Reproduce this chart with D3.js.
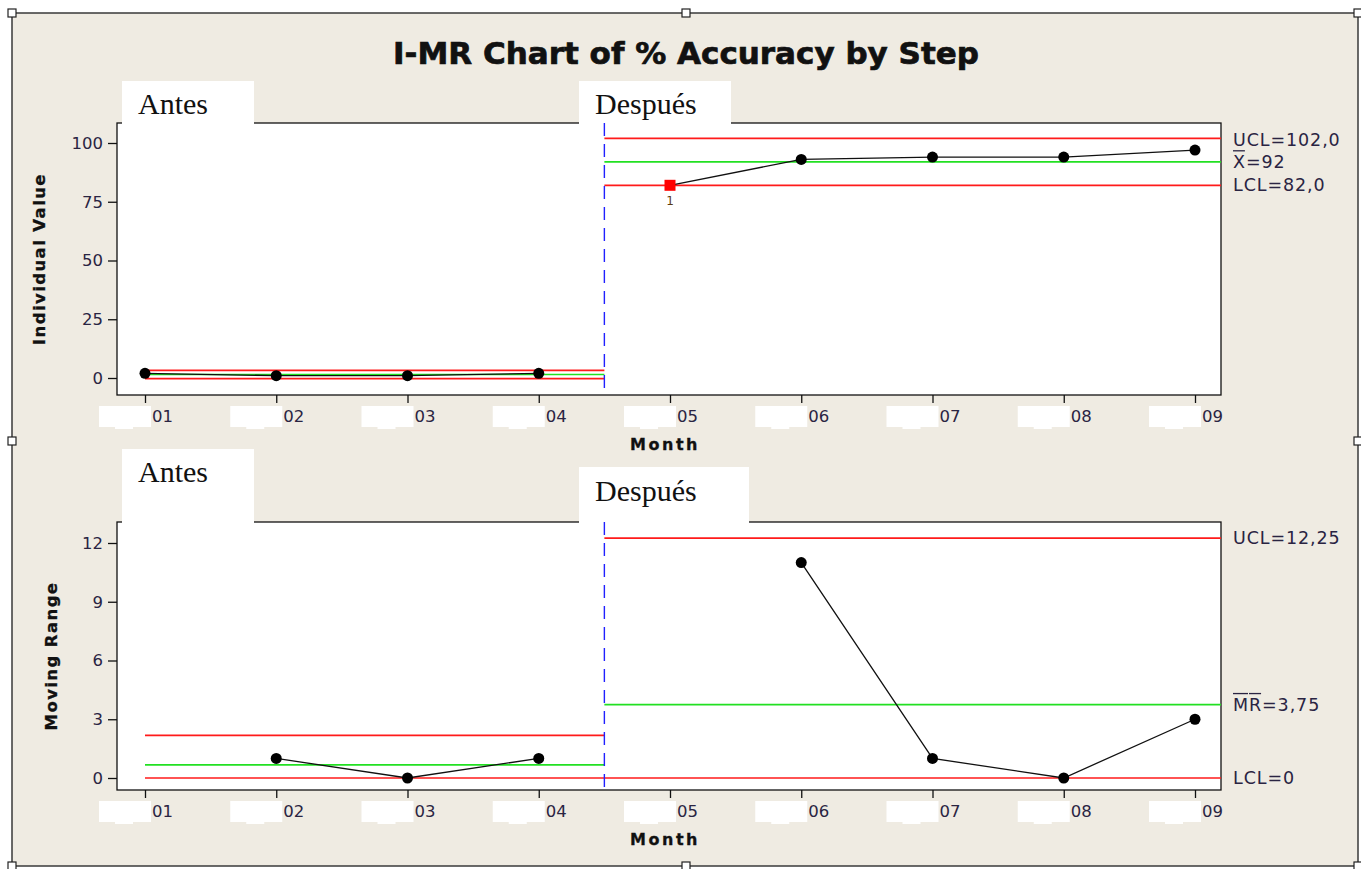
<!DOCTYPE html>
<html><head><meta charset="utf-8">
<script src="https://cdn.jsdelivr.net/npm/d3@7"></script>
<style>body{margin:0;background:#fff;} svg{display:block}</style>
</head><body>
<svg id="c" width="1361" height="869"></svg>
<script>
// ---- data ----
const months = ["01","02","03","04","05","06","07","08","09"];
const monthIndex = [1,2,3,4,5,6,7,8,9];
const stages = ["Antes","Antes","Antes","Antes","Después","Después","Después","Después","Después"];
const individualValues = [2,1,1,2,82,93,94,94,97];
const movingRanges = [null,1,0,1,null,11,1,0,3];
const testFlags = [0,0,0,0,1,0,0,0,0];
const stageNames = ["Antes","Después"];
const stageBoundary = 4.5;
const iUCL = [3.27, 102.0], iCL = [1.5, 92], iLCL = [-0.27, 82.0];
const mrUCL = [2.18, 12.25], mrCL = [0.667, 3.75], mrLCL = [0, 0];
const iTicks = [0,25,50,75,100];
const mrTicks = [0,3,6,9,12];
const iLimitLabels = ["UCL=102,0","X=92","LCL=82,0"];
const mrLimitLabels = ["UCL=12,25","MR=3,75","LCL=0"];
const titleText = "I-MR Chart of % Accuracy by Step";

// ---- layout ----
const svg = d3.select("#c");
const W = 1361, H = 869;
const frame = {x0:12, y0:13, x1:1358, y1:866};
const plotL = 117, plotR = 1221;
const txtCol = "#2a2442";

svg.append("rect").attr("x",0).attr("y",0).attr("width",W).attr("height",H).attr("fill","#fff");
svg.append("rect").attr("x",frame.x0).attr("y",frame.y0).attr("width",frame.x1-frame.x0).attr("height",frame.y1-frame.y0)
  .attr("fill","#efebe2").attr("stroke","#3a3a3a").attr("stroke-width",1.5);

svg.append("text").attr("x",686).attr("y",64).attr("text-anchor","middle")
  .attr("font-family","DejaVu Sans").attr("font-weight","bold").attr("font-size",31)
  .attr("fill","#111").attr("stroke","#111").attr("stroke-width",0.7).text(titleText);

const x = d3.scaleLinear().domain([1,9]).range([145,1195]);

function panel(cfg){
  const g = svg.append("g");
  const y = d3.scaleLinear().domain(cfg.ydom).range(cfg.yrange);
  // plot area
  g.append("rect").attr("x",plotL).attr("y",cfg.top).attr("width",plotR-plotL).attr("height",cfg.bottom-cfg.top)
    .attr("fill","#fff").attr("stroke","#111").attr("stroke-width",1.3);
  // stage label boxes
  cfg.boxes.forEach((b,i)=>{
    g.append("rect").attr("x",b.x).attr("y",b.y).attr("width",b.w).attr("height",cfg.top-b.y+1).attr("fill","#fff");
    g.append("text").attr("x",b.x+16).attr("y",b.ty).attr("font-family","Liberation Serif").attr("font-size",30)
      .attr("fill","#111").text(stageNames[i]);
  });
  // y axis
  const ya = g.append("g").attr("transform",`translate(${plotL},0)`)
    .call(d3.axisLeft(y).tickValues(cfg.ticks).tickSize(9).tickPadding(5).tickFormat(d3.format("d")));
  ya.select(".domain").remove();
  ya.selectAll("line").attr("stroke","#111").attr("stroke-width",1.3);
  ya.selectAll("text").attr("font-family","DejaVu Sans").attr("font-size",16.5).attr("fill",txtCol);
  // x axis
  const xa = g.append("g").attr("transform",`translate(0,${cfg.bottom})`)
    .call(d3.axisBottom(x).tickValues(monthIndex).tickSize(8).tickFormat(""));
  xa.select(".domain").remove();
  xa.selectAll("line").attr("stroke","#111").attr("stroke-width",1.3);
  monthIndex.forEach((m,i)=>{
    const px = x(m);
    g.append("rect").attr("x",px-46).attr("y",cfg.bottom+11).attr("width",52).attr("height",21).attr("fill","#fff");
    g.append("rect").attr("x",px-30).attr("y",cfg.bottom+28).attr("width",18).attr("height",6).attr("fill","#fff");
    g.append("text").attr("x",px+7).attr("y",cfg.bottom+27).attr("font-family","DejaVu Sans").attr("font-size",16.5)
      .attr("fill",txtCol).text(months[i]);
  });
  g.append("text").attr("x",665).attr("y",cfg.bottom+55).attr("text-anchor","middle")
    .attr("font-family","DejaVu Sans").attr("font-weight","bold").attr("font-size",16).attr("letter-spacing",2.5)
    .attr("fill","#111").attr("stroke","#111").attr("stroke-width",0.3).text("Month");
  // y label
  g.append("text").attr("transform",`translate(${cfg.ylabX},${(cfg.top+cfg.bottom)/2}) rotate(-90)`)
    .attr("text-anchor","middle").attr("font-family","DejaVu Sans").attr("font-weight","bold").attr("font-size",16.5)
    .attr("letter-spacing",1.4).attr("fill","#111").attr("stroke","#111").attr("stroke-width",0.3).text(cfg.ylabel);
  // limit lines per stage
  const xEnd = x.invert(plotR);
  const segs = [[1, stageBoundary],[stageBoundary, xEnd]];
  segs.forEach((s,si)=>{
    [[cfg.ucl[si],"#ff1a1a"],[cfg.cl[si],"#22e022"],[cfg.lcl[si],"#ff1a1a"]].forEach(([v,c])=>{
      g.append("line").attr("x1",x(s[0])).attr("x2",x(s[1])).attr("y1",y(v)).attr("y2",y(v))
        .attr("stroke",c).attr("stroke-width",1.7);
    });
  });
  // divider
  g.append("line").attr("x1",x(stageBoundary)).attr("x2",x(stageBoundary)).attr("y1",cfg.top).attr("y2",cfg.bottom)
    .attr("stroke","#2020ff").attr("stroke-width",1.4).attr("stroke-dasharray","13,8");
  // data lines per stage
  stageNames.forEach(sn=>{
    const pts = monthIndex.map((m,i)=>({m, v:cfg.values[i], s:stages[i], f:testFlags[i]}))
      .filter(d=>d.s===sn && d.v!==null);
    g.append("path").datum(pts).attr("fill","none").attr("stroke","#111").attr("stroke-width",1.3)
      .attr("d", d3.line().x(d=>x(d.m)).y(d=>y(d.v)));
    pts.forEach(d=>{
      if (cfg.flags && d.f){
        g.append("rect").attr("x",x(d.m)-5.5).attr("y",y(d.v)-5.5).attr("width",11).attr("height",11).attr("fill","#ff0000");
        g.append("text").attr("x",x(d.m)).attr("y",y(d.v)+20).attr("text-anchor","middle")
          .attr("font-family","DejaVu Sans").attr("font-size",12).attr("fill","#5a3b12").text("1");
      } else {
        g.append("circle").attr("cx",x(d.m)).attr("cy",y(d.v)).attr("r",5.5).attr("fill","#000");
      }
    });
  });
  // right labels
  const lv = [cfg.ucl[1], cfg.cl[1], cfg.lcl[1]];
  cfg.labels.forEach((t,i)=>{
    const ty = y(lv[i]) + cfg.labOff[i];
    const tx = g.append("text").attr("x",1233).attr("y",ty).attr("dominant-baseline","central")
      .attr("font-family","DejaVu Sans").attr("font-size",17.5).attr("letter-spacing",0.9)
      .attr("fill",txtCol).text(t);
    if (cfg.bars[i]) {
      const node = tx.node();
      cfg.bars[i].forEach(ci=>{
        const st = node.getStartPositionOfChar(ci).x, en = node.getEndPositionOfChar(ci).x;
        g.append("line").attr("x1",st).attr("x2",en-1).attr("y1",ty-11).attr("y2",ty-11)
          .attr("stroke",txtCol).attr("stroke-width",1.3);
      });
    }
  });
  return y;
}

panel({top:123, bottom:395, ydom:[0,100], yrange:[378,143], ticks:iTicks, ylabel:"Individual Value", ylabX:45,
  values:individualValues, ucl:iUCL, cl:iCL, lcl:iLCL, labels:iLimitLabels, labOff:[2,0,0], bars:[null,[0],null], flags:true,
  boxes:[{x:122,y:81,w:132,ty:114},{x:579,y:81,w:152,ty:114}]});
panel({top:522, bottom:790, ydom:[0,12], yrange:[778,543], ticks:mrTicks, ylabel:"Moving Range", ylabX:57,
  values:movingRanges, ucl:mrUCL, cl:mrCL, lcl:mrLCL, labels:mrLimitLabels, labOff:[0,0,0], bars:[null,[0,1],null], flags:false,
  boxes:[{x:122,y:449,w:132,ty:482},{x:579,y:467,w:170,ty:501}]});

// frame handles
[[frame.x0,frame.y0],[686,frame.y0],[frame.x1,frame.y0],[frame.x0,441],[frame.x1,441],[frame.x0,frame.y1],[686,frame.y1],[frame.x1,frame.y1]]
  .forEach(([hx,hy])=>{
    svg.append("rect").attr("x",hx-4).attr("y",hy-4).attr("width",8).attr("height",8)
      .attr("fill","#fff").attr("stroke","#222").attr("stroke-width",1.2);
  });
</script>
</body></html>
